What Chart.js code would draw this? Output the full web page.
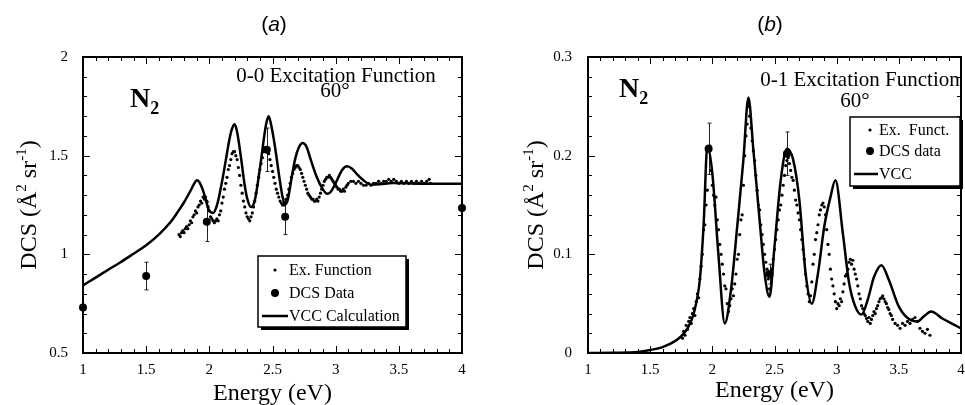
<!DOCTYPE html>
<html>
<head>
<meta charset="utf-8">
<script src="https://cdn.jsdelivr.net/npm/chart.js@4.4.0/dist/chart.umd.min.js"></script>
<style>
body { margin: 0; background: #fff; }
#wrap { position: relative; width: 965px; height: 405px; overflow: hidden; }
canvas { position: absolute; top: 0; }
#chartA { left: 0; }
#chartB { left: 480px; }
</style>
</head>
<body>
<div id="wrap">
  <canvas id="chartA" width="480" height="405"></canvas>
  <canvas id="chartB" width="485" height="405"></canvas>
</div>
<script>
// ---- panel (a): 0-0 excitation function ----
const vccAE = [1.0, 1.1, 1.2, 1.3, 1.4, 1.5, 1.6, 1.7, 1.75, 1.8, 1.85, 1.88, 1.9, 1.92, 1.95, 1.98, 2.0, 2.03, 2.06, 2.1,
  2.13, 2.16, 2.18, 2.2, 2.22, 2.25, 2.28, 2.3, 2.33, 2.36, 2.4, 2.43, 2.45, 2.47, 2.49, 2.52, 2.55, 2.58, 2.6, 2.62,
  2.65, 2.68, 2.71, 2.74, 2.77, 2.8, 2.85, 2.9, 2.93, 2.96, 3.0, 3.05, 3.09, 3.13, 3.17, 3.22, 3.28, 3.35, 3.45, 3.55, 3.7, 4.0];
const vccAV = [0.843, 0.882, 0.922, 0.961, 1.003, 1.046, 1.10, 1.169, 1.215, 1.264, 1.321, 1.358, 1.375, 1.367, 1.324, 1.257, 1.22, 1.21, 1.248, 1.367,
  1.476, 1.586, 1.637, 1.659, 1.62, 1.493, 1.35, 1.282, 1.24, 1.274, 1.434, 1.578, 1.662, 1.70, 1.654, 1.544, 1.409, 1.29, 1.253, 1.274,
  1.383, 1.485, 1.544, 1.564, 1.544, 1.485, 1.392, 1.328, 1.307, 1.316, 1.361, 1.426, 1.446, 1.434, 1.405, 1.375, 1.353, 1.355, 1.361, 1.36, 1.358, 1.358];

const exAE = [1.76, 1.77, 1.78, 1.79, 1.80, 1.81, 1.82, 1.83, 1.84, 1.85, 1.86, 1.87, 1.88, 1.89, 1.90, 1.91, 1.92, 1.93, 1.94, 1.95,
  1.96, 1.97, 1.98, 1.99, 2.00, 2.01, 2.02, 2.03, 2.04, 2.05, 2.06, 2.07, 2.08, 2.09, 2.10, 2.11, 2.12, 2.13, 2.14, 2.15,
  2.16, 2.17, 2.18, 2.19, 2.20, 2.21, 2.22, 2.23, 2.24, 2.25, 2.26, 2.27, 2.28, 2.29, 2.30, 2.31, 2.32, 2.33, 2.34, 2.35,
  2.36, 2.37, 2.38, 2.39, 2.40, 2.41, 2.42, 2.43, 2.44, 2.45, 2.46, 2.47, 2.48, 2.49, 2.50, 2.51, 2.52, 2.53, 2.54, 2.55,
  2.56, 2.57, 2.58, 2.59, 2.60, 2.61, 2.62, 2.63, 2.64, 2.65, 2.66, 2.67, 2.68, 2.69, 2.70, 2.71, 2.72, 2.73, 2.74, 2.75,
  2.76, 2.77, 2.78, 2.79, 2.80, 2.81, 2.82, 2.83, 2.84, 2.85, 2.86, 2.87, 2.88, 2.89, 2.90, 2.91, 2.92, 2.93, 2.94, 2.95,
  2.96, 2.97, 2.98, 2.99, 3.00, 3.01, 3.02, 3.03, 3.04, 3.05, 3.06, 3.07, 3.08, 3.09, 3.10, 3.12, 3.14, 3.16, 3.18, 3.20,
  3.22, 3.24, 3.26, 3.28, 3.30, 3.32, 3.34, 3.36, 3.38, 3.40, 3.42, 3.44, 3.46, 3.48, 3.50, 3.52, 3.54, 3.56, 3.58, 3.60,
  3.62, 3.64, 3.66, 3.68, 3.70, 3.72, 3.74, 3.75];
const exAV = [1.10, 1.09, 1.11, 1.12, 1.11, 1.13, 1.14, 1.13, 1.15, 1.17, 1.16, 1.19, 1.20, 1.22, 1.21, 1.24, 1.25, 1.27, 1.26, 1.29,
  1.28, 1.29, 1.27, 1.24, 1.22, 1.19, 1.18, 1.17, 1.16, 1.17, 1.18, 1.17, 1.20, 1.22, 1.26, 1.29, 1.33, 1.36, 1.39, 1.43,
  1.45, 1.48, 1.51, 1.52, 1.52, 1.50, 1.48, 1.44, 1.40, 1.35, 1.31, 1.27, 1.24, 1.21, 1.19, 1.18, 1.17, 1.19, 1.21, 1.24,
  1.27, 1.31, 1.35, 1.39, 1.43, 1.46, 1.49, 1.52, 1.54, 1.54, 1.53, 1.51, 1.48, 1.45, 1.42, 1.39, 1.36, 1.33, 1.31, 1.29,
  1.27, 1.26, 1.25, 1.25, 1.26, 1.28, 1.30, 1.33, 1.36, 1.39, 1.41, 1.43, 1.44, 1.45, 1.45, 1.44, 1.43, 1.41, 1.39, 1.37,
  1.35, 1.33, 1.31, 1.30, 1.29, 1.28, 1.28, 1.27, 1.27, 1.28, 1.27, 1.29, 1.31, 1.33, 1.35, 1.37, 1.38, 1.39, 1.39, 1.40,
  1.39, 1.38, 1.37, 1.36, 1.35, 1.34, 1.33, 1.33, 1.32, 1.32, 1.33, 1.32, 1.34, 1.35, 1.36, 1.37, 1.37, 1.36, 1.37, 1.36,
  1.35, 1.35, 1.36, 1.35, 1.36, 1.36, 1.37, 1.36, 1.37, 1.37, 1.38, 1.37, 1.38, 1.37, 1.36, 1.37, 1.36, 1.37, 1.36, 1.37,
  1.36, 1.37, 1.36, 1.37, 1.36, 1.37, 1.38, 1.36];

const dcsAE = [1.0, 1.5, 1.98, 2.455, 2.6, 4.0];
const dcsAV = [0.73, 0.89, 1.165, 1.53, 1.19, 1.235];
const dcsAErr = [0, 0.07, 0.1, 0.11, 0.09, 0];

// ---- panel (b): 0-1 excitation function ----
const vccBE = [1.0, 1.2, 1.4, 1.5, 1.6, 1.7, 1.75, 1.8, 1.85, 1.9, 1.93, 1.96, 2.0, 2.05, 2.1, 2.15, 2.2, 2.25, 2.29, 2.33,
  2.38, 2.42, 2.46, 2.5, 2.55, 2.6, 2.65, 2.7, 2.75, 2.8, 2.85, 2.9, 2.95, 2.99, 3.05, 3.1, 3.15, 3.2, 3.25, 3.3,
  3.36, 3.42, 3.5, 3.6, 3.65, 3.7, 3.76, 3.85, 4.0];
const vccBV = [0, 0.0003, 0.001, 0.003, 0.006, 0.012, 0.017, 0.025, 0.04, 0.075, 0.13, 0.21, 0.182, 0.098, 0.030, 0.064, 0.128, 0.196, 0.259, 0.206,
  0.135, 0.081, 0.057, 0.108, 0.175, 0.207, 0.196, 0.155, 0.081, 0.050, 0.081, 0.128, 0.158, 0.175, 0.121, 0.071, 0.047, 0.039, 0.054, 0.077,
  0.089, 0.074, 0.047, 0.033, 0.032, 0.037, 0.042, 0.035, 0.025];

const exBE = [1.76, 1.77, 1.78, 1.79, 1.80, 1.81, 1.82, 1.83, 1.84, 1.85, 1.86, 1.87, 1.88, 1.89, 1.90, 1.91, 1.92, 1.93, 1.94, 1.95,
  1.96, 1.97, 1.98, 1.99, 2.00, 2.01, 2.02, 2.03, 2.04, 2.05, 2.06, 2.07, 2.08, 2.09, 2.10, 2.11, 2.12, 2.13, 2.14, 2.15,
  2.16, 2.17, 2.18, 2.19, 2.20, 2.21, 2.22, 2.23, 2.24, 2.25, 2.26, 2.27, 2.28, 2.29, 2.30, 2.31, 2.32, 2.33, 2.34, 2.35,
  2.36, 2.37, 2.38, 2.39, 2.40, 2.41, 2.42, 2.43, 2.44, 2.45, 2.46, 2.47, 2.48, 2.49, 2.50, 2.51, 2.52, 2.53, 2.54, 2.55,
  2.56, 2.57, 2.58, 2.59, 2.60, 2.61, 2.62, 2.63, 2.64, 2.65, 2.66, 2.67, 2.68, 2.69, 2.70, 2.71, 2.72, 2.73, 2.74, 2.75,
  2.76, 2.77, 2.78, 2.79, 2.80, 2.81, 2.82, 2.83, 2.84, 2.85, 2.86, 2.87, 2.88, 2.89, 2.90, 2.91, 2.92, 2.93, 2.94, 2.95,
  2.96, 2.97, 2.98, 2.99, 3.00, 3.01, 3.02, 3.03, 3.04, 3.05, 3.06, 3.07, 3.08, 3.09, 3.10, 3.11, 3.12, 3.13, 3.14, 3.15,
  3.16, 3.17, 3.18, 3.19, 3.20, 3.21, 3.22, 3.23, 3.24, 3.25, 3.26, 3.27, 3.28, 3.29, 3.30, 3.31, 3.32, 3.33, 3.34, 3.35,
  3.36, 3.37, 3.38, 3.39, 3.40, 3.41, 3.42, 3.43, 3.44, 3.45, 3.47, 3.49, 3.51, 3.53, 3.55, 3.57, 3.59, 3.61, 3.63, 3.65,
  3.67, 3.69, 3.71, 3.73, 3.75];
const exBV = [0.015, 0.022, 0.018, 0.028, 0.024, 0.032, 0.036, 0.030, 0.040, 0.045, 0.038, 0.052, 0.060, 0.056, 0.075, 0.088, 0.100, 0.125, 0.130, 0.150,
  0.165, 0.205, 0.210, 0.185, 0.170, 0.160, 0.150, 0.158, 0.135, 0.125, 0.110, 0.100, 0.090, 0.080, 0.068, 0.065, 0.050, 0.042, 0.048, 0.055,
  0.065, 0.058, 0.070, 0.080, 0.095, 0.100, 0.120, 0.135, 0.140, 0.170, 0.200, 0.220, 0.232, 0.250, 0.240, 0.228, 0.215, 0.205, 0.195, 0.180,
  0.165, 0.150, 0.145, 0.130, 0.120, 0.110, 0.100, 0.092, 0.085, 0.075, 0.065, 0.078, 0.085, 0.095, 0.105, 0.115, 0.125, 0.135, 0.145, 0.150,
  0.160, 0.170, 0.180, 0.190, 0.195, 0.198, 0.192, 0.185, 0.178, 0.175, 0.165, 0.155, 0.150, 0.142, 0.135, 0.125, 0.115, 0.105, 0.095, 0.080,
  0.068, 0.060, 0.052, 0.058, 0.072, 0.090, 0.100, 0.115, 0.122, 0.130, 0.140, 0.145, 0.150, 0.152, 0.148, 0.140, 0.125, 0.110, 0.100, 0.085,
  0.075, 0.068, 0.060, 0.052, 0.045, 0.050, 0.048, 0.055, 0.052, 0.062, 0.070, 0.078, 0.080, 0.085, 0.092, 0.095, 0.090, 0.094, 0.085, 0.080,
  0.075, 0.068, 0.060, 0.055, 0.048, 0.045, 0.040, 0.038, 0.035, 0.032, 0.036, 0.030, 0.034, 0.038, 0.042, 0.040, 0.045, 0.048, 0.052, 0.055,
  0.056, 0.058, 0.055, 0.052, 0.050, 0.046, 0.044, 0.040, 0.038, 0.034, 0.030, 0.028, 0.025, 0.030, 0.028, 0.032, 0.030, 0.034, 0.036, 0.032,
  0.025, 0.022, 0.020, 0.024, 0.018];

const dcsBE = [1.97, 2.46, 2.6];
const dcsBV = [0.207, 0.08, 0.202];
const dcsBErr = [0.026, 0.01, 0.022];

const SERIF = '"Liberation Serif", "Times New Roman", serif';
const SANS = '"Liberation Sans", Arial, sans-serif';

function pts(xs, ys) {
    return xs.map((x, i) => ({ x: x, y: ys[i] }));
}

// draws a row of text pieces (for sub/superscripts), align 'left' or 'center'
function drawRich(ctx, parts, x, y, align) {
    let w = 0;
    parts.forEach(p => { ctx.font = p.font; w += ctx.measureText(p.t).width; });
    let cx = align === 'center' ? x - w / 2 : x;
    ctx.textAlign = 'left';
    ctx.textBaseline = 'alphabetic';
    parts.forEach(p => {
        ctx.font = p.font;
        ctx.fillText(p.t, cx, y + (p.dy || 0));
        cx += ctx.measureText(p.t).width;
    });
}

const decorPlugin = {
    id: 'decor',
    beforeDatasetsDraw(chart) {
        // error bars on DCS data
        const p = chart.options.plugins.decor;
        const ctx = chart.ctx, xs = chart.scales.x, ys = chart.scales.y;
        ctx.save();
        ctx.strokeStyle = '#222';
        ctx.lineWidth = 1;
        p.dcsE.forEach((e, i) => {
            if (!p.dcsErr[i]) return;
            const px = Math.round(xs.getPixelForValue(e)) + 0.5;
            const y1 = ys.getPixelForValue(p.dcsV[i] + p.dcsErr[i]);
            const y2 = ys.getPixelForValue(p.dcsV[i] - p.dcsErr[i]);
            ctx.beginPath();
            ctx.moveTo(px, y1); ctx.lineTo(px, y2);
            ctx.moveTo(px - 2, y1); ctx.lineTo(px + 2, y1);
            ctx.moveTo(px - 2, y2); ctx.lineTo(px + 2, y2);
            ctx.stroke();
        });
        ctx.restore();
    },
    afterDraw(chart) {
        const p = chart.options.plugins.decor;
        const ctx = chart.ctx, xs = chart.scales.x, ys = chart.scales.y;
        const a = chart.chartArea;
        ctx.save();
        ctx.fillStyle = '#000';
        ctx.strokeStyle = '#000';

        // frame
        ctx.lineWidth = 2;
        ctx.strokeRect(a.left, a.top, a.right - a.left, a.bottom - a.top);

        // inward ticks on all four sides
        ctx.lineWidth = 1;
        ctx.beginPath();
        for (let i = 0; i <= 30; i++) {
            const px = Math.round(xs.getPixelForValue(1 + i * 0.1)) + 0.5;
            const len = i % 5 === 0 ? 7 : 4;
            ctx.moveTo(px, a.bottom); ctx.lineTo(px, a.bottom - len);
            ctx.moveTo(px, a.top); ctx.lineTo(px, a.top + len);
        }
        for (let i = 0; i <= 15; i++) {
            const py = Math.round(ys.getPixelForValue(p.yMin + i * p.yMinor)) + 0.5;
            const len = i % 5 === 0 ? 7 : 4;
            ctx.moveTo(a.left, py); ctx.lineTo(a.left + len, py);
            ctx.moveTo(a.right, py); ctx.lineTo(a.right - len, py);
        }
        ctx.stroke();

        // panel title (a)/(b)
        drawRich(ctx, [
            { t: '(', font: '21px ' + SANS },
            { t: p.letter, font: 'italic 21px ' + SANS },
            { t: ')', font: '21px ' + SANS }
        ], p.titleX, 31, 'center');

        // axis titles
        drawRich(ctx, [{ t: 'Energy (eV)', font: '24px ' + SERIF }], (a.left + a.right) / 2, p.xTitleY, 'center');
        ctx.save();
        ctx.translate(p.yTitleX, (a.top + a.bottom) / 2);
        ctx.rotate(-Math.PI / 2);
        drawRich(ctx, [
            { t: 'DCS (Å', font: '24px ' + SERIF },
            { t: '2', font: '15px ' + SERIF, dy: -10 },
            { t: ' sr', font: '24px ' + SERIF },
            { t: '-1', font: '15px ' + SERIF, dy: -10 },
            { t: ')', font: '24px ' + SERIF }
        ], 0, 0, 'center');
        ctx.restore();

        // N2 label and caption
        drawRich(ctx, [
            { t: 'N', font: 'bold 28px ' + SERIF },
            { t: '2', font: 'bold 18px ' + SERIF, dy: 7 }
        ], p.n2X, p.n2Y, 'left');
        drawRich(ctx, [{ t: p.caption, font: '21px ' + SERIF }], p.capX, p.capY, 'center');
        drawRich(ctx, [{ t: '60°', font: '21px ' + SERIF }], p.degX, p.degY, 'center');

        // legend box with shadow
        const L = p.legend;
        ctx.fillStyle = '#000';
        ctx.fillRect(L.x + 3, L.y + L.h, L.w, 3);
        ctx.fillRect(L.x + L.w, L.y + 3, 3, L.h);
        ctx.fillStyle = '#fff';
        ctx.fillRect(L.x, L.y, L.w, L.h);
        ctx.lineWidth = 1.5;
        ctx.strokeRect(L.x, L.y, L.w, L.h);
        ctx.fillStyle = '#000';
        ctx.beginPath();
        ctx.arc(L.markX, L.rows[0], 1.6, 0, Math.PI * 2);
        ctx.fill();
        ctx.beginPath();
        ctx.arc(L.markX, L.rows[1], 4, 0, Math.PI * 2);
        ctx.fill();
        ctx.lineWidth = 2.5;
        ctx.beginPath();
        ctx.moveTo(L.x + 4, L.rows[2]); ctx.lineTo(L.textX, L.rows[2]);
        ctx.stroke();
        L.labels.forEach((t, i) => {
            drawRich(ctx, [{ t: t, font: '16px ' + SERIF }], L.textX + 1, L.rows[i] + 5, 'left');
        });
        ctx.restore();
    }
};

function makeChart(id, W, area, yMin, yMax, yStep, vcc, ex, dcs, decor) {
    const ctx = document.getElementById(id).getContext('2d');
    decor.yMin = yMin;
    decor.yMinor = (yMax - yMin) / 15;
    decor.dcsE = dcs[0]; decor.dcsV = dcs[1]; decor.dcsErr = dcs[2];
    return new Chart(ctx, {
        type: 'scatter',
        data: {
            datasets: [{
                label: 'VCC',
                data: pts(vcc[0], vcc[1]),
                showLine: true,
                borderColor: '#000',
                borderWidth: 2.5,
                pointRadius: 0,
                cubicInterpolationMode: 'monotone',
                fill: false
            }, {
                label: 'Ex. Function',
                data: pts(ex[0], ex[1]),
                pointRadius: 1.6,
                backgroundColor: '#000',
                borderWidth: 0
            }, {
                label: 'DCS Data',
                data: pts(dcs[0], dcs[1]),
                pointRadius: 4,
                backgroundColor: '#000',
                borderWidth: 0,
                clip: false
            }]
        },
        options: {
            responsive: false,
            animation: false,
            devicePixelRatio: 1,
            events: [],
            layout: { padding: { left: 0, top: area.top, right: W - area.right, bottom: 0 } },
            scales: {
                x: {
                    type: 'linear',
                    min: 1, max: 4,
                    grid: { display: false },
                    border: { display: false },
                    ticks: {
                        stepSize: 0.5, autoSkip: false, maxRotation: 0, padding: 0,
                        color: '#000', font: { family: SERIF, size: 15 },
                        callback: v => String(Math.round(v * 10) / 10)
                    },
                    afterFit: s => { s.height = 405 - area.bottom; s.paddingLeft = 0; s.paddingRight = 0; }
                },
                y: {
                    type: 'linear',
                    min: yMin, max: yMax,
                    grid: { display: false },
                    border: { display: false },
                    ticks: {
                        stepSize: yStep, padding: decor.yTickPad,
                        color: '#000', font: { family: SERIF, size: 15 },
                        callback: v => String(Math.round(v * 100) / 100)
                    },
                    afterFit: s => { s.width = area.left; s.paddingTop = 0; s.paddingBottom = 0; }
                }
            },
            plugins: {
                legend: { display: false },
                tooltip: { enabled: false },
                decor: decor
            }
        },
        plugins: [decorPlugin]
    });
}

makeChart('chartA', 480, { left: 83, right: 462, top: 57, bottom: 353 }, 0.5, 2, 0.5,
    [vccAE, vccAV], [exAE, exAV], [dcsAE, dcsAV, dcsAErr], {
        letter: 'a', titleX: 274, xTitleY: 400, yTitleX: 36, yTickPad: 7,
        n2X: 130, n2Y: 107,
        caption: '0-0 Excitation Function', capX: 336, capY: 82, degX: 335, degY: 97,
        legend: {
            x: 258, y: 256, w: 148, h: 71, markX: 275, textX: 288,
            rows: [270, 293, 316], labels: ['Ex. Function', 'DCS Data', 'VCC Calculation']
        }
    });

makeChart('chartB', 485, { left: 108, right: 483, top: 57, bottom: 353 }, 0, 0.3, 0.1,
    [vccBE, vccBV], [exBE, exBV], [dcsBE, dcsBV, dcsBErr], {
        letter: 'b', titleX: 290, xTitleY: 397, yTitleX: 63, yTickPad: 8,
        n2X: 139, n2Y: 97,
        caption: '0-1 Excitation Function', capX: 380, capY: 86, degX: 375, degY: 107,
        legend: {
            x: 370, y: 117, w: 110, h: 69, markX: 390, textX: 398,
            rows: [130, 151, 174], labels: ['Ex.  Funct.', 'DCS data', 'VCC']
        }
    });
</script>
</body>
</html>
